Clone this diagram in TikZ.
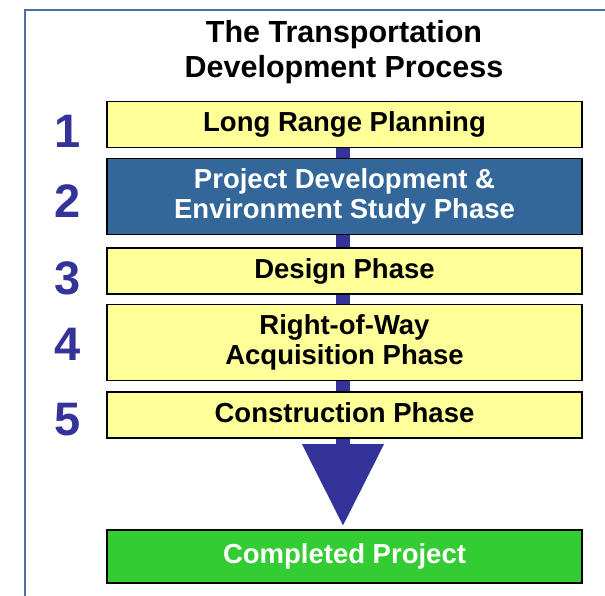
\documentclass[tikz,border=0pt]{standalone}
\usepackage{fontspec}
\setmainfont{Liberation Sans}
\usetikzlibrary{arrows.meta,backgrounds}
\definecolor{phaseyellow}{RGB}{255,255,153}
\definecolor{phaseblue}{RGB}{51,102,153}
\definecolor{donegreen}{RGB}{51,204,51}
\definecolor{navy}{RGB}{51,51,153}
\definecolor{framecol}{RGB}{74,112,160}
\tikzset{
  phasebox/.style={draw=black, line width=1.6pt, fill=phaseyellow, minimum width=475pt,
    minimum height=76pt, align=center, inner sep=0pt,
    font=\fontsize{27.5}{30}\selectfont\bfseries},
  phase/.style={phasebox, minimum height=46pt, text height=20pt, text depth=6pt},
  num/.style={text=navy, font=\fontsize{47}{47}\selectfont\bfseries, inner sep=0pt},
  stem/.style={draw=navy, line width=14pt, -{Triangle[width=78pt,length=82pt]}, shorten >=3pt}
}
\begin{document}
\begin{tikzpicture}[x=1pt, y=-1pt]
\useasboundingbox (0,0) rectangle (605,596);
\draw[framecol, line width=2.6pt] (25,596)--(25,10)--(605,10);

\node[align=center, font=\fontsize{30.5}{35}\selectfont\bfseries] (title) at (344,52.5)
  {The Transportation\\Development Process};

\node[phase] (b1) at (344.5,124.5) {Long Range Planning};
\node[phasebox, fill=phaseblue, text=white] (b2) at (344.5,196.5)
  {Project Development \&\\Environment Study Phase};
\node[phase] (b3) at (344.5,271) {Design Phase};
\node[phasebox] (b4) at (344.5,342.5) {Right-of-Way\\Acquisition Phase};
\node[phase] (b5) at (344.5,415) {Construction Phase};
\node[phase, fill=donegreen, text=white, minimum height=53pt] (done) at (344.5,556.5)
  {Completed Project};

\foreach \n/\y in {1/131,2/201,3/278,4/344.5,5/420}
{
    \node[num] (n\n) at (68,\y) {\n};
}

\begin{scope}[on background layer]
\draw[stem] ([xshift=-1.5pt]b1.center) -- ([xshift=-1.5pt]done.north);
\end{scope}
\end{tikzpicture}
\end{document}
